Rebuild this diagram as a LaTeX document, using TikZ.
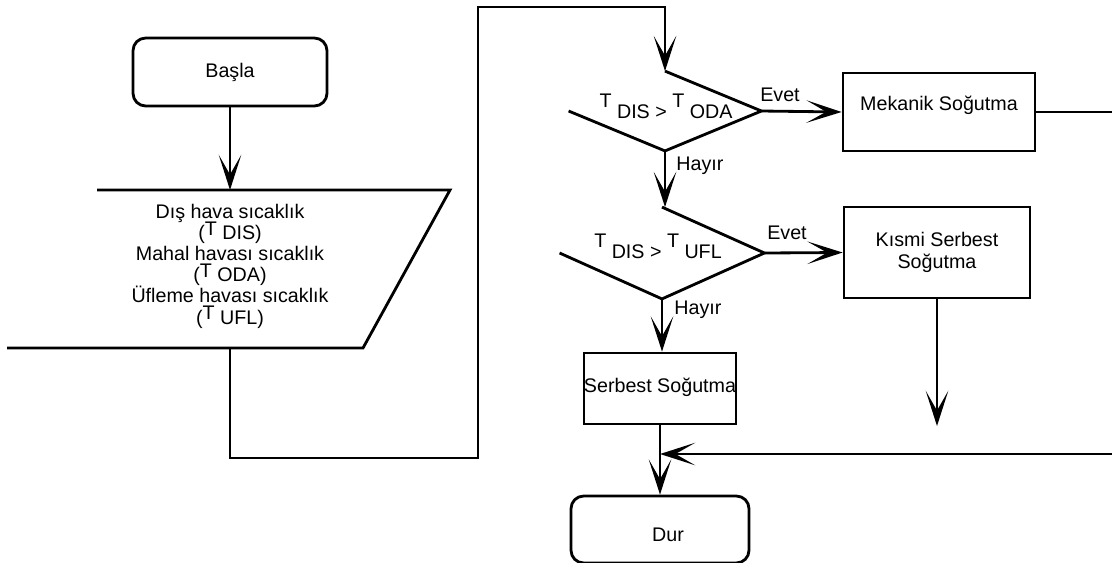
\documentclass[tikz,border=0pt]{standalone}
\usepackage{fontspec}
\setmainfont{Liberation Sans}
\usetikzlibrary{arrows.meta,fit,shapes.geometric}
\begin{document}
\begin{tikzpicture}[x=0.025cm,y=-0.025cm, line width=2pt,
  font=\fontsize{14}{15.1}\selectfont,
  arr/.style={-{Stealth[length=25pt,width=16pt,inset=14pt]}},
  box/.style={draw, inner sep=0pt, rectangle},
  rbox/.style={draw, inner sep=0pt, rounded corners=9pt},
  dia/.style={diamond, inner sep=0pt},
  lbl/.style={inner sep=1pt}]
\useasboundingbox[fill=white] (0,0) rectangle (1112,562);
% terminals
\node[rbox, fit={(133,38)(327,106)}, label=center:Başla] (basla) {};
\node[rbox, fit={(571,496)(749,563)}] (dur) {};
\node (durt) at (668,535) {Dur};
% input parallelogram (open on the left)
\coordinate (intop) at (230,190);
\coordinate (inbot) at (230,348);
\draw (7,348) -- (363,348) -- (450,190) -- (97,190);
\node[align=center] (inp) at (230,266) {Dış hava sıcaklık\\(\smash{\raisebox{3pt}{T}} DIS)\\Mahal havası sıcaklık\\(\smash{\raisebox{3pt}{T}} ODA)\\Üfleme havası sıcaklık\\(\smash{\raisebox{3pt}{T}} UFL)};
% decisions
\node[dia, minimum width=190*0.025cm, minimum height=77*0.025cm] (d1) at (665,111) {};
\draw (d1.north) -- (d1.east) -- (d1.south) -- (d1.west);
\node (d1t) at (666,112) {\smash{\raisebox{8pt}{T}} DIS > \smash{\raisebox{8pt}{T}} ODA};
\node[dia, minimum width=202*0.025cm, minimum height=89*0.025cm] (d2) at (662,253) {};
\draw (d2.north) -- (d2.east) -- (d2.south) -- (d2.west);
\node (d2t) at (658,252) {\smash{\raisebox{8pt}{T}} DIS > \smash{\raisebox{8pt}{T}} UFL};
% process boxes
\node[box, fit={(843,73)(1035,151)}] (mek) {};
\node (mekt) at (939,105) {Mekanik Soğutma};
\node[box, fit={(844,207)(1030,298)}, label={[align=center]center:Kısmi Serbest\\Soğutma}] (kis) {};
\node[box, fit={(584,353)(736,424)}] (ser) {};
\node (sert) at (660,387) {Serbest Soğutma};
% connectors
\draw[arr] (basla.south) -- (intop);
\coordinate (loopa) at (478,458);
\coordinate (loopb) at (478,7);
\draw[arr] (inbot) |- (loopa) -- (loopb) -| (d1.north);
\draw[arr] (d1.east) -- (mek.west);
\node[lbl] (e1) at (780,95) {Evet};
\draw[arr] (d1.south) -- (d1.south |- d2.north);
\node[lbl] (h1) at (700,166) {Hayır};
\draw[arr] (d2.east) -- (kis.west);
\node[lbl] (e2) at (787,233) {Evet};
\draw[arr] (d2.south) -- (d2.south |- ser.north);
\node[lbl] (h2) at (698,310) {Hayır};
\coordinate (kisend) at (937,426);
\draw[arr] (kis.south) -- (kisend);
\coordinate (join) at (660,454);
\draw (ser.south) -- (join);
\draw[arr] (join) -- (dur.north);
\coordinate (redge) at (1122,112);
\draw[arr] (mek.east) -- (redge) |- (join);
\end{tikzpicture}
\end{document}
